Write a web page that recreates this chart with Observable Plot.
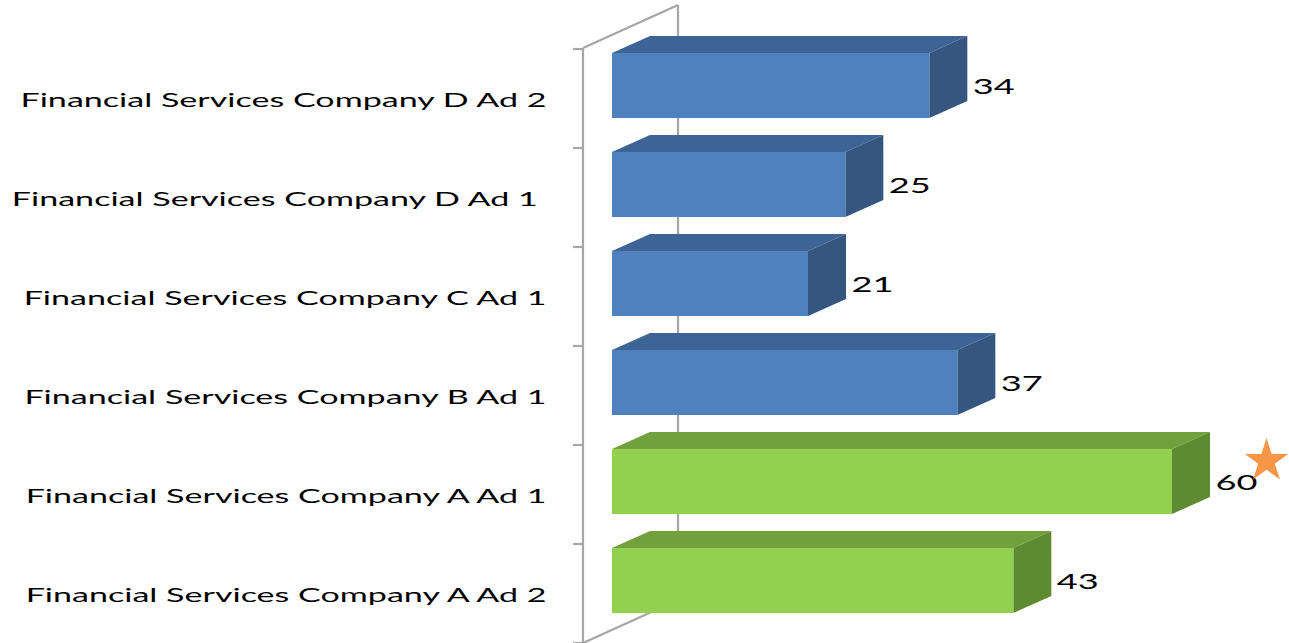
<!DOCTYPE html>
<html><head><meta charset="utf-8">
<script src="https://cdn.jsdelivr.net/npm/d3@7"></script>
<script src="https://cdn.jsdelivr.net/npm/@observablehq/plot@0.6"></script>
<style>
html,body{margin:0;padding:0;background:#fff;}
svg text{white-space:pre;}
</style></head><body><div id="chart"></div>
<script>
// ---- data ----
const categories = [
  "Financial Services Company D Ad 2",
  "Financial Services Company D Ad 1 ",
  "Financial Services Company C Ad 1",
  "Financial Services Company B Ad 1",
  "Financial Services Company A Ad 1",
  "Financial Services Company A Ad 2"
];
const values = [34, 25, 21, 37, 60, 43];
const groups = ["other", "other", "other", "other", "A", "A"];
const starred = ["Financial Services Company A Ad 1"];

// ---- style ----
const palette = {
  other: {front: "#4F81BD", top: "#3E6496", side: "#34567F"},
  A: {front: "#92D050", top: "#72A03C", side: "#5E8A32"}
};
const DX = 38, DY = 17;        // bar depth (px)
const WDX = 95, WDY = 43;      // wall depth (px)
const WALL_GAP = 29;           // wall front is left of zero
const INSET_TOP = 4, INSET_BOTTOM = 30;

const data = categories.map((c, i) => ({cat: c, value: values[i], group: groups[i]}));

function bandwidthOf(y, dims) {
  if (y.bandwidth) return y.bandwidth();
  return (dims.height - dims.marginTop - dims.marginBottom) / categories.length;
}

// wall behind bars (back line + diagonals) and tick marks
function wallMark(index, scales, vals, dims) {
  const x = scales.x, y = scales.y;
  const bw = bandwidthOf(y, dims);
  const xf = x(0) - WALL_GAP, xb = xf + WDX;
  const yt = dims.marginTop, yb = dims.height - dims.marginBottom;
  const g = d3.create("svg:g").attr("fill", "none").attr("stroke", "#A6A6A6").attr("stroke-width", 2.2);
  g.append("path").attr("d", `M${xb},${yt - WDY}V${yb - WDY}`);
  g.append("path").attr("d", `M${xf},${yt}L${xb},${yt - WDY}`);
  g.append("path").attr("d", `M${xf},${yb}L${xb},${yb - WDY}`);
  g.append("path").attr("d", `M${xf},${yt}V${yb}`);
  const tickYs = categories.map(c => y(c)).concat([y(categories[categories.length - 1]) + bw]);
  for (const ty of tickYs) g.append("path").attr("d", `M${xf - 10},${ty}H${xf}`);
  return g.node();
}

// top and side faces of the 3D bars
function facesMark(index, scales, vals, dims) {
  const x = scales.x, y = scales.y;
  const bw = bandwidthOf(y, dims);
  const g = d3.create("svg:g");
  for (const d of data) {
    const x0 = x(0), x1 = x(d.value);
    const yt = y(d.cat) + INSET_TOP, yb = y(d.cat) + bw - INSET_BOTTOM;
    const c = palette[d.group];
    g.append("path").attr("fill", c.top)
      .attr("d", `M${x0},${yt}L${x1},${yt}L${x1 + DX},${yt - DY}L${x0 + DX},${yt - DY}Z`);
    g.append("path").attr("fill", c.side)
      .attr("d", `M${x1},${yt}L${x1 + DX},${yt - DY}L${x1 + DX},${yb - DY}L${x1},${yb}Z`);
  }
  return g.node();
}

const chart = Plot.plot({
  width: 1289,
  height: 643,
  marginLeft: 612,
  marginRight: 5,
  marginTop: 48,
  marginBottom: 0,
  style: {background: "#fff", fontFamily: "Lato, 'Open Sans', sans-serif", color: "#000"},
  x: {domain: [0, 72], axis: null},
  y: {domain: categories, axis: null, padding: 0},
  color: {domain: ["other", "A"], range: [palette.other.front, palette.A.front]},
  marks: [
    wallMark,
    facesMark,
    Plot.barX(data, {x: "value", y: "cat", fill: "group", insetTop: INSET_TOP, insetBottom: INSET_BOTTOM}),
    Plot.text(data, {y: "cat", text: "cat", frameAnchor: "left", dx: -66, dy: 2, textAnchor: "end", fontSize: 19, fill: "#000"}),
    Plot.text(data, {x: "value", y: "cat", text: d => String(d.value), dx: DX + 5, dy: -12, textAnchor: "start", fontSize: 21, fill: "#000"}),
    Plot.dot(data.filter(d => starred.includes(d.cat)), {x: "value", y: "cat", symbol: "star", r: 13.7, fill: "#F79646", stroke: "none", dx: 94, dy: -34})
  ]
});
document.getElementById("chart").append(chart);

// horizontal stretch of text to match the wide rendering of the reference
const textGroups = chart.querySelectorAll('g[aria-label="text"]');
function stretch(group, k) {
  for (const t of group.querySelectorAll("text")) {
    const w = t.getComputedTextLength();
    t.setAttribute("textLength", w * k);
    t.setAttribute("lengthAdjust", "spacingAndGlyphs");
  }
}
if (textGroups.length >= 2) {
  const first = textGroups[0].querySelector("text");
  const kLabel = 526 / first.getComputedTextLength();
  stretch(textGroups[0], kLabel);
  const firstNum = textGroups[1].querySelector("text");
  const kNum = 42 / firstNum.getComputedTextLength();
  stretch(textGroups[1], kNum);
}
</script></body></html>
